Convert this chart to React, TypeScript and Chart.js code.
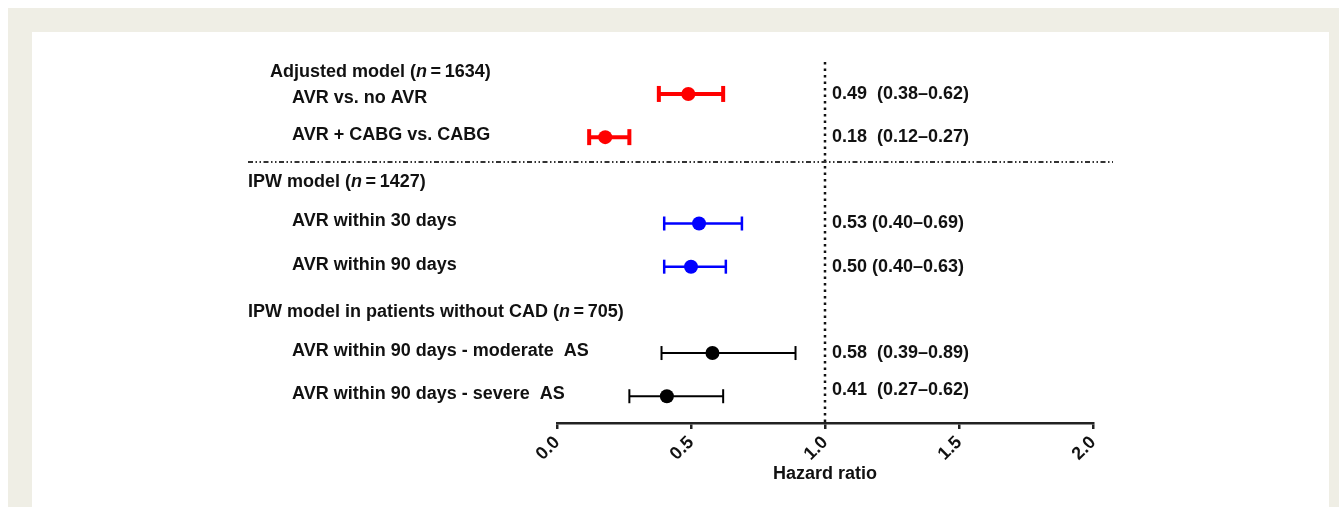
import React, { useEffect, useRef } from "react";
import { Chart, registerables } from "chart.js";

Chart.register(...registerables);

// ---- data ----
const rowLabels = [
  "AVR vs. no AVR",
  "AVR + CABG vs. CABG",
  "AVR within 30 days",
  "AVR within 90 days",
  "AVR within 90 days - moderate  AS",
  "AVR within 90 days - severe  AS",
];
const hazardRatios = [0.49, 0.18, 0.53, 0.5, 0.58, 0.41];
const ciLower = [0.38, 0.12, 0.4, 0.4, 0.39, 0.27];
const ciUpper = [0.62, 0.27, 0.69, 0.63, 0.89, 0.62];
const rowGroup = [0, 0, 1, 1, 2, 2];
// ordinal row slots (header rows occupy slots too)
const rowSlot = [1, 2, 4, 5, 7, 8];
const groupHeaderSlot = [0.5, 3, 6];
const separatorSlot = 2.5;
const groupTitles = [
  ["Adjusted model (", "n", "\u2009=\u20091634)"],
  ["IPW model (", "n", "\u2009=\u20091427)"],
  ["IPW model in patients without CAD (", "n", "\u2009=\u2009705)"],
];
const xTicks = [0, 0.5, 1, 1.5, 2];
const referenceValue = 1;

// ---- style ----
const groupColors = ["#ff0000", "#0000ff", "#000000"];
const groupLineWidth = [4, 2.5, 2];
const groupCapRadius = [8, 7, 7];
const groupValueGap = ["  ", " ", "  "];
const FONT = '"Liberation Sans", Arial, sans-serif';

const labelsPlugin = {
  id: "forestLabels",
  afterDraw(chart: any) {
    const { ctx, chartArea, scales } = chart;
    const y = scales.y;
    const x = scales.x;
    ctx.save();
    ctx.fillStyle = "#111";
    ctx.textBaseline = "middle";
    ctx.textAlign = "left";
    // group headers
    groupTitles.forEach((parts, g) => {
      let px = chartArea.left - 309 + (g === 0 ? 22 : 0);
      const py = y.getPixelForValue(groupHeaderSlot[g]) + (g === 0 ? 0 : 2);
      parts.forEach((p, i) => {
        ctx.font = (i === 1 ? "italic bold " : "bold ") + "18px " + FONT;
        ctx.fillText(p, px, py);
        px += ctx.measureText(p).width;
      });
    });
    // row labels
    ctx.font = "bold 18px " + FONT;
    rowLabels.forEach((lab, i) => {
      const py = y.getPixelForValue(rowSlot[i]);
      ctx.fillText(lab, chartArea.left - 265, py + (i === 0 ? 4 : -2));
    });
    // value text
    const vx = x.getPixelForValue(referenceValue) + 7;
    hazardRatios.forEach((hr, i) => {
      const gap = groupValueGap[rowGroup[i]];
      const t = `${hr.toFixed(2)}${gap}(${ciLower[i].toFixed(2)}\u2013${ciUpper[i].toFixed(2)})`;
      ctx.fillText(t, vx, y.getPixelForValue(rowSlot[i]) + (i === 5 ? -6 : 0));
    });
    // separator (dash-dot-dot)
    ctx.strokeStyle = "#333";
    ctx.lineWidth = 2;
    ctx.setLineDash([5, 2.5, 1.5, 2.5, 1.5, 2.5]);
    const sy = Math.round(y.getPixelForValue(separatorSlot)) + 3;
    ctx.beginPath();
    ctx.moveTo(chartArea.left - 309, sy);
    ctx.lineTo(chartArea.right + 20, sy);
    ctx.stroke();
    ctx.restore();
  },
};

export default function App() {
  const ref = useRef<HTMLCanvasElement | null>(null);
  useEffect(() => {
    if (!ref.current) return;
    const yMin = 0.26;
    const yMax = 8.62;
    const datasets: any[] = [];
    // reference line
    datasets.push({
      data: [
        { x: referenceValue, y: yMin },
        { x: referenceValue, y: yMax },
      ],
      showLine: true,
      borderColor: "#111",
      borderWidth: 2.5,
      borderDash: [2.5, 4],
      pointRadius: 0,
    });
    // whiskers
    hazardRatios.forEach((_, i) => {
      const g = rowGroup[i];
      datasets.push({
        data: [
          { x: ciLower[i], y: rowSlot[i] },
          { x: ciUpper[i], y: rowSlot[i] },
        ],
        showLine: true,
        borderColor: groupColors[g],
        borderWidth: groupLineWidth[g],
        pointStyle: "line",
        pointRotation: 90,
        pointRadius: groupCapRadius[g],
        pointBorderWidth: groupLineWidth[g],
        pointBorderColor: groupColors[g],
        pointBackgroundColor: groupColors[g],
      });
    });
    // point estimates
    datasets.push({
      data: hazardRatios.map((hr, i) => ({ x: hr, y: rowSlot[i] })),
      pointRadius: 7,
      pointBackgroundColor: rowGroup.map((g) => groupColors[g]),
      pointBorderColor: rowGroup.map((g) => groupColors[g]),
      pointBorderWidth: 0,
      showLine: false,
    });

    const chart = new Chart(ref.current, {
      type: "scatter",
      data: { datasets },
      plugins: [labelsPlugin],
      options: {
        animation: false,
        responsive: true,
        maintainAspectRatio: false,
        events: [],
        layout: { padding: { left: 525, right: 236, top: 30, bottom: 18 } },
        plugins: { legend: { display: false }, tooltip: { enabled: false } },
        scales: {
          x: {
            type: "linear",
            min: 0,
            max: 2,
            afterBuildTicks: (s: any) => {
              s.ticks = xTicks.map((v) => ({ value: v }));
            },
            afterFit: (s: any) => {
              s.height = 66;
            },
            ticks: {
              minRotation: 45,
              maxRotation: 45,
              color: "#111",
              font: { family: FONT, size: 18, weight: "bold" },
              callback: (v: any) => Number(v).toFixed(1),
              padding: 3,
            },
            grid: {
              drawOnChartArea: false,
              drawTicks: true,
              tickLength: 6,
              color: "#222",
              lineWidth: 2.5,
            },
            border: { display: true, color: "#222", width: 2.5 },
            title: {
              display: true,
              text: "Hazard ratio",
              color: "#111",
              font: { family: FONT, size: 18, weight: "bold" },
            },
          },
          y: {
            type: "linear",
            display: false,
            reverse: true,
            min: yMin,
            max: yMax,
          },
        },
      } as any,
    });
    return () => chart.destroy();
  }, []);

  return (
    <div
      style={{
        position: "absolute",
        left: 8,
        top: 8,
        width: 1331,
        height: 499,
        background: "#efeee5",
        overflow: "hidden",
      }}
    >
      <div
        style={{
          position: "absolute",
          left: 24,
          top: 24,
          width: 1297,
          height: 475,
          background: "#ffffff",
        }}
      >
        <canvas ref={ref} />
      </div>
    </div>
  );
}
